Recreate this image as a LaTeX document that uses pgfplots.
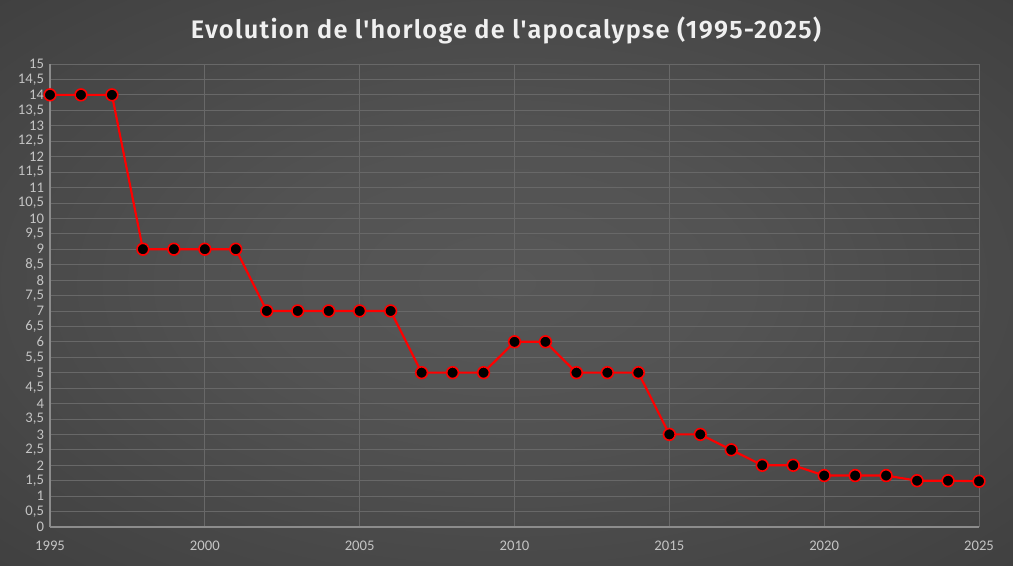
\documentclass[border=0pt]{standalone}
\usepackage{pgfplots}
\pgfplotsset{compat=1.18}
\usepackage{fontspec}
\setmainfont{Carlito}
\newfontfamily\titlefont[LetterSpace=5]{Fira Sans SemiBold}
\definecolor{bgin}{HTML}{575757}
\definecolor{bgout}{HTML}{232323}
\definecolor{gridc}{HTML}{686868}
\definecolor{tickc}{HTML}{C4C4C4}
\definecolor{axc}{HTML}{8C8C8C}
\pgfdeclareradialshading{bgshade}{\pgfpoint{0bp}{0bp}}{color(0bp)=(bgin); color(12bp)=(bgin!92!bgout); color(72bp)=(bgout)}
\begin{document}
\begin{tikzpicture}
\shade[shading=bgshade] (0pt,0pt) rectangle (759.75pt,423.75pt);
\node[text=white!94!black, font=\titlefont\fontsize{19}{23}\selectfont] at (379.5pt,401.25pt) {Evolution de l'horloge de l'apocalypse (1995-2025)};
\begin{axis}[
  at={(37.5pt,28.5pt)}, anchor=south west,
  scale only axis, width=696.75pt, height=347.25pt,
  xmin=1995, xmax=2025, ymin=0, ymax=15,
  xtick={1995,2000,...,2025},
  ytick={0,0.5,...,15},
  /pgf/number format/use comma,
  /pgf/number format/1000 sep={},
  /pgf/number format/assume math mode=true,
  tick label style={font=\fontsize{11}{12}\selectfont, text=tickc},
  xticklabel style={yshift=-7pt},
  yticklabel style={xshift=-1pt},
  grid=major,
  major grid style={draw=gridc, line width=0.6pt},
  axis x line*=bottom, axis y line*=left,
  axis line style={draw=axc, line width=0.8pt, -},
  major tick length=0pt,
  clip=false,
]
\addplot[red, line width=1.6pt, mark=*, mark size=4.4pt, mark options={fill=black, draw=red, line width=1.2pt}]
coordinates {
(1995,14) (1996,14) (1997,14)
(1998,9) (1999,9) (2000,9) (2001,9)
(2002,7) (2003,7) (2004,7) (2005,7) (2006,7)
(2007,5) (2008,5) (2009,5)
(2010,6) (2011,6)
(2012,5) (2013,5) (2014,5)
(2015,3) (2016,3)
(2017,2.5)
(2018,2) (2019,2)
(2020,1.667) (2021,1.667) (2022,1.667)
(2023,1.5) (2024,1.5)
(2025,1.483)
};
\end{axis}
\end{tikzpicture}
\end{document}
